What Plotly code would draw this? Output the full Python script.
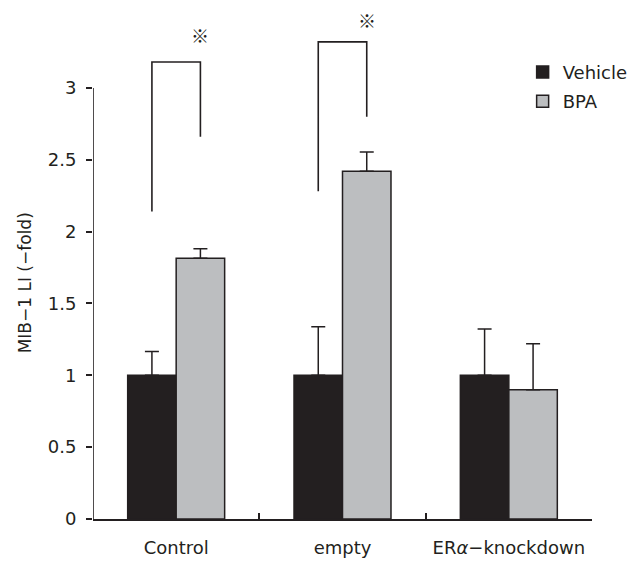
import plotly.graph_objects as go

categories = ["Control", "empty", "ER<i>α</i>−knockdown"]
vehicle = [1.0, 1.0, 1.0]
vehicle_err_top = [1.165, 1.338, 1.322]
bpa = [1.815, 2.42, 0.90]
bpa_err_top = [1.88, 2.553, 1.22]

# significance brackets: (category index, left-leg bottom, top, right-leg bottom)
bracket_cat = [0, 1]
bracket_left_bottom = [2.14, 2.28]
bracket_top = [3.18, 3.32]
bracket_right_bottom = [2.66, 2.80]
star_y = [3.37, 3.47]

yticks = [0, 0.5, 1, 1.5, 2, 2.5, 3]
ytick_text = ["0", "0.5", "1", "1.5", "2", "2.5", "3"]

FONT = "DejaVu Sans"
BLACK = "#231f20"
GRAY = "#bcbec0"
BARGAP = 0.417

fig = go.Figure()
fig.add_trace(go.Bar(
    x=categories, y=vehicle, name="Vehicle", legendgroup="v",
    marker=dict(color=BLACK, line=dict(color=BLACK, width=1.5)),
    error_y=dict(type="data", symmetric=False,
                 array=[t - v for t, v in zip(vehicle_err_top, vehicle)],
                 arrayminus=[0, 0, 0], color=BLACK, thickness=1.5, width=7),
))
fig.add_trace(go.Bar(
    x=categories, y=bpa, name="BPA", legendgroup="b",
    marker=dict(color=GRAY, line=dict(color=BLACK, width=1.5)),
    error_y=dict(type="data", symmetric=False,
                 array=[t - v for t, v in zip(bpa_err_top, bpa)],
                 arrayminus=[0, 0, 0], color=BLACK, thickness=1.5, width=7),
))

half = (1 - BARGAP) / 4  # offset of each bar centre from category centre
for i, c in enumerate(bracket_cat):
    xl = c - half
    xr = c + half
    path = (f"M {xl},{bracket_left_bottom[i]} L {xl},{bracket_top[i]} "
            f"L {xr},{bracket_top[i]} L {xr},{bracket_right_bottom[i]}")
    fig.add_shape(type="path", path=path, xref="x", yref="y",
                  line=dict(color=BLACK, width=1.6))
    fig.add_annotation(x=xr, y=star_y[i], xref="x", yref="y", text="※",
                       showarrow=False, yanchor="middle", xanchor="center",
                       height=16, valign="middle",
                       font=dict(family="Noto Sans CJK JP", size=18, color=BLACK))

# y axis line only from 0 to 3
fig.add_shape(type="line", xref="x", yref="y", x0=-0.5, x1=-0.5, y0=0, y1=3,
              line=dict(color=BLACK, width=1.6))

fig.add_annotation(x=-0.5, y=1.64, xref="x", yref="y", xshift=-68,
                   text="MIB−1 LI (−fold)", textangle=-90, showarrow=False,
                   font=dict(family=FONT, size=17, color=BLACK))

# the page body has an 8px margin, so the figure is shrunk and margins offset
fig.update_layout(
    width=631, height=553,
    margin=dict(l=85, r=47, t=2, b=42),
    plot_bgcolor="white", paper_bgcolor="white",
    barmode="group", bargap=BARGAP, bargroupgap=0,
    font=dict(family=FONT, size=18, color=BLACK),
    showlegend=True,
    legend=dict(x=0.861, y=0.914, xanchor="left", yanchor="top",
                traceorder="grouped", tracegroupgap=3,
                font=dict(family=FONT, size=18, color=BLACK),
                bgcolor="rgba(0,0,0,0)"),
    xaxis=dict(type="category", showline=True, linecolor=BLACK, linewidth=1.6,
               ticks="inside", tickson="boundaries", ticklen=6, tickwidth=1.5,
               tickcolor=BLACK, showgrid=False, zeroline=False, automargin=False,
               ticklabelstandoff=12, range=[-0.5, 2.5]),
    yaxis=dict(range=[0, 3.542], showline=False, tickvals=yticks, ticktext=ytick_text,
               ticks="outside", ticklen=6, tickwidth=1.5, tickcolor=BLACK, automargin=False,
               showgrid=False, zeroline=False, ticklabelstandoff=6),
)

fig.write_html("out.html")
